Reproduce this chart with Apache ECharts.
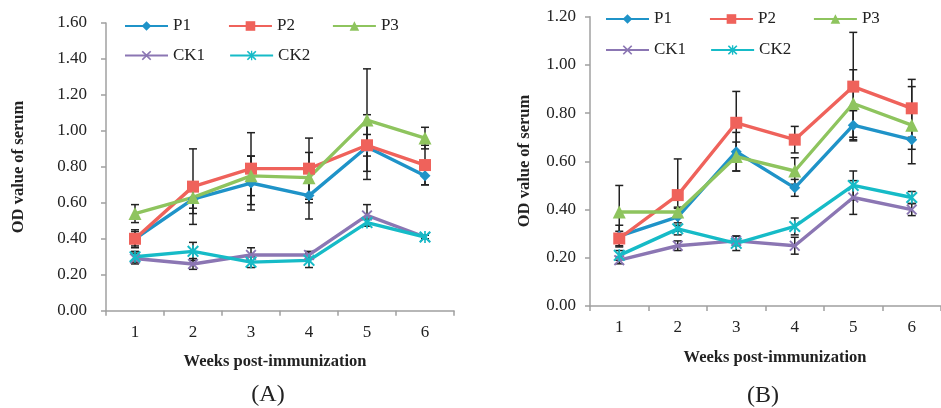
<!DOCTYPE html>
<html><head><meta charset="utf-8">
<script src="https://cdn.jsdelivr.net/npm/echarts@6/dist/echarts.min.js"></script>
<style>html,body{margin:0;padding:0;background:#fff}#c{width:941px;height:408px}</style>
</head><body><div id="c"></div>
<script>
const weeks = ['1','2','3','4','5','6'];
const seriesNames = ['P1','P2','P3','CK1','CK2'];
// Chart A values
const A_P1 = [0.40, 0.62, 0.71, 0.64, 0.91, 0.75];
const A_P2 = [0.40, 0.69, 0.79, 0.79, 0.92, 0.81];
const A_P3 = [0.54, 0.63, 0.75, 0.74, 1.06, 0.96];
const A_CK1 = [0.29, 0.26, 0.31, 0.31, 0.53, 0.41];
const A_CK2 = [0.30, 0.33, 0.27, 0.28, 0.49, 0.41];
// Chart A error (+/-)
const A_P1_err = [0.04, 0.08, 0.15, 0.13, 0.18, 0.05];
const A_P2_err = [0.05, 0.21, 0.20, 0.17, 0.06, 0.11];
const A_P3_err = [0.05, 0.06, 0.11, 0.14, 0.285, 0.06];
const A_CK1_err = [0.03, 0.03, 0.04, 0.02, 0.06, 0.01];
const A_CK2_err = [0.03, 0.05, 0.03, 0.04, 0.02, 0.01];
// Chart B values
const B_P1 = [0.29, 0.37, 0.64, 0.49, 0.75, 0.69];
const B_P2 = [0.28, 0.46, 0.76, 0.69, 0.91, 0.82];
const B_P3 = [0.39, 0.39, 0.62, 0.56, 0.84, 0.75];
const B_CK1 = [0.19, 0.25, 0.27, 0.25, 0.45, 0.40];
const B_CK2 = [0.21, 0.32, 0.26, 0.33, 0.50, 0.45];
// Chart B error (+/-)
const B_P1_err = [0.045, 0.035, 0.08, 0.035, 0.06, 0.04];
const B_P2_err = [0.03, 0.15, 0.13, 0.055, 0.225, 0.12];
const B_P3_err = [0.11, 0.02, 0.06, 0.055, 0.14, 0.16];
const B_CK1_err = [0.015, 0.02, 0.02, 0.035, 0.07, 0.025];
const B_CK2_err = [0.02, 0.025, 0.03, 0.035, 0.06, 0.025];
const yTicksA = {min: 0, max: 1.6, interval: 0.2};
const yTicksB = {min: 0, max: 1.2, interval: 0.2};

const colors = {P1:'#1f93c8', P2:'#ef625b', P3:'#8ec45e', CK1:'#8b76b3', CK2:'#16bbc7'};
const xPath = 'path://M0,1.2 L1.2,0 L5,3.8 L8.8,0 L10,1.2 L6.2,5 L10,8.8 L8.8,10 L5,6.2 L1.2,10 L0,8.8 L3.8,5 Z';
const astPath = xPath + ' M4.3,0 L5.7,0 L5.7,10 L4.3,10 Z';
const symbols = {P1:['diamond',11], P2:['rect',12], P3:['triangle',13], CK1:[xPath,11], CK2:[astPath,12]};

const SERIF = '"Liberation Serif","Times New Roman",serif';

const dataA = {P1:A_P1, P2:A_P2, P3:A_P3, CK1:A_CK1, CK2:A_CK2};
const errA = {P1:A_P1_err, P2:A_P2_err, P3:A_P3_err, CK1:A_CK1_err, CK2:A_CK2_err};
const dataB = {P1:B_P1, P2:B_P2, P3:B_P3, CK1:B_CK1, CK2:B_CK2};
const errB = {P1:B_P1_err, P2:B_P2_err, P3:B_P3_err, CK1:B_CK1_err, CK2:B_CK2_err};

function errRender(params, api){
  const i = api.value(0), v = api.value(1), e = api.value(2);
  const t = api.coord([i, v + e]);
  const b = api.coord([i, v - e]);
  const cw = 4;
  const st = {stroke:'#222', lineWidth:1.5};
  return {type:'group', children:[
    {type:'line', shape:{x1:t[0], y1:t[1], x2:b[0], y2:b[1]}, style:st},
    {type:'line', shape:{x1:t[0]-cw, y1:t[1], x2:t[0]+cw, y2:t[1]}, style:st},
    {type:'line', shape:{x1:b[0]-cw, y1:b[1], x2:b[0]+cw, y2:b[1]}, style:st}
  ]};
}

const series = [];
[[dataA, errA, 0], [dataB, errB, 1]].forEach(([d, e, ax]) => {
  seriesNames.forEach(n => {
    series.push({
      type:'custom', xAxisIndex:ax, yAxisIndex:ax, renderItem:errRender, z:1, silent:true,
      encode:{x:0, y:1},
      data: d[n].map((v, i) => [i, v, e[n][i]])
    });
  });
  seriesNames.forEach(n => {
    series.push({
      name:n, type:'line', xAxisIndex:ax, yAxisIndex:ax, data:d[n], z:3,
      symbol:symbols[n][0], symbolSize:symbols[n][1], symbolKeepAspect:true,
      lineStyle:{color:colors[n], width:3.4}, itemStyle:{color:colors[n]},
      animation:false
    });
  });
});

function yAxis(idx, t, margin){
  return {type:'value', gridIndex:idx, min:t.min, max:t.max, interval:t.interval,
    axisLine:{show:true, lineStyle:{color:'#a0a0a0', width:1.5}},
    axisTick:{show:true, length:5, lineStyle:{color:'#a0a0a0', width:1.5}},
    splitLine:{show:false},
    axisLabel:{margin:margin, color:'#222', fontFamily:SERIF, fontSize:17, formatter:v => v.toFixed(2)}};
}
function xAxis(idx){
  return {type:'category', gridIndex:idx, data:weeks, boundaryGap:true,
    axisLine:{show:true, lineStyle:{color:'#a0a0a0', width:1.5}},
    axisTick:{show:true, length:5, alignWithLabel:false, lineStyle:{color:'#a0a0a0', width:1.5}},
    axisLabel:{margin:13, color:'#222', fontFamily:SERIF, fontSize:17}};
}
function legend(names, left, top, gap){
  return {data:names, left:left, top:top, padding:0, orient:'horizontal', itemWidth:43, itemHeight:12, itemGap:gap,
    selectedMode:false, textStyle:{fontFamily:SERIF, fontSize:17, color:'#222'}};
}
const chart = echarts.init(document.getElementById('c'), null, {renderer:'canvas'});
chart.setOption({
  animation:false,
  backgroundColor:'#fff',
  grid:[
    {left:106, top:23, width:348, height:287.7, containLabel:false},
    {left:590, top:16.7, width:356, height:289.3, containLabel:false}
  ],
  xAxis:[xAxis(0), xAxis(1)],
  yAxis:[yAxis(0, yTicksA, 19), yAxis(1, yTicksB, 14)],
  legend:[
    legend(['P1','P2','P3'], 124, 17.5, 37),
    legend(['CK1','CK2'], 124, 47, 24),
    legend(['P1','P2','P3'], 605, 10.5, 37),
    legend(['CK1','CK2'], 605, 41.5, 24)
  ],
  graphic:[
    {type:'text', x:18.5, y:167, rotation:Math.PI/2, style:{text:'OD value of serum', font:'bold 16.5px '+SERIF, fill:'#222', align:'center', verticalAlign:'middle'}},
    {type:'text', x:525, y:161, rotation:Math.PI/2, style:{text:'OD value of serum', font:'bold 16.5px '+SERIF, fill:'#222', align:'center', verticalAlign:'middle'}},
    {type:'text', x:275, y:362, style:{text:'Weeks post-immunization', font:'bold 16.5px '+SERIF, fill:'#222', align:'center', verticalAlign:'middle'}},
    {type:'text', x:775, y:358, style:{text:'Weeks post-immunization', font:'bold 16.5px '+SERIF, fill:'#222', align:'center', verticalAlign:'middle'}},
    {type:'text', x:268, y:395, style:{text:'(A)', font:'24px '+SERIF, fill:'#222', align:'center', verticalAlign:'middle'}},
    {type:'text', x:763, y:396, style:{text:'(B)', font:'24px '+SERIF, fill:'#222', align:'center', verticalAlign:'middle'}}
  ],
  series:series
});
</script></body></html>
